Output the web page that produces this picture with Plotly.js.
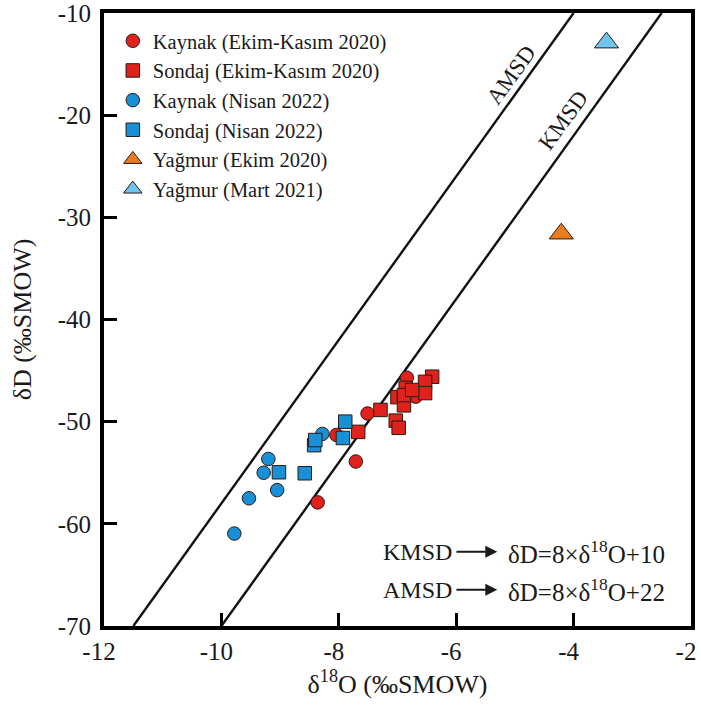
<!DOCTYPE html>
<html>
<head>
<meta charset="utf-8">
<script src="https://cdn.plot.ly/plotly-3.0.1.min.js"></script>
<style>html,body{margin:0;padding:0;background:#fff;}#chart{width:701px;height:715px;}</style>
</head>
<body>
<div id="chart"></div>
<script>
// Kaynak (Ekim-Kasım 2020) - red circles
var kaynak2020_O = [-8.36, -7.71, -8.04, -7.51, -6.84, -6.69];
var kaynak2020_D = [-57.9, -53.9, -51.3, -49.2, -45.7, -47.55];
// Sondaj (Ekim-Kasım 2020) - red squares
var sondaj2020_O = [-7.67, -7.29, -7.03, -6.98, -6.41, -6.53, -6.86, -6.53, -7.00, -6.89, -6.89, -6.75];
var sondaj2020_D = [-51.0, -48.85, -49.9, -50.6, -45.6, -46.1, -46.7, -47.2, -47.6, -48.4, -47.4, -46.9];
// Kaynak (Nisan 2022) - blue circles
var kaynak2022_O = [-9.78, -9.53, -9.05, -9.28, -9.20, -8.28];
var kaynak2022_D = [-60.95, -57.5, -56.7, -55.0, -53.65, -51.2];
// Sondaj (Nisan 2022) - blue squares
var sondaj2022_O = [-9.02, -8.58, -8.42, -8.40, -7.89, -7.93];
var sondaj2022_D = [-54.95, -55.05, -52.3, -51.8, -50.0, -51.6];
// Yağmur
var yagmurEkim_O = [-4.21];
var yagmurEkim_D = [-31.6];
var yagmurMart_O = [-3.44];
var yagmurMart_D = [-12.9];
// Meteoric water lines: dD = slope * d18O + intercept
var lineNames = ["KMSD", "AMSD"];
var lineSlopes = [8, 8];
var lineIntercepts = [10, 22];
var xRange = [-12, -2];
var yRange = [-70, -10];
var xTicks = [-12, -10, -8, -6, -4, -2];
var xTickText = ["-12", "-10", "-8", "-6", "-4", "-2"];
var yTicks = [-70, -60, -50, -40, -30, -20, -10];
var yTickText = ["-70", "-60", "-50", "-40", "-30", "-20", "-10"];

function lineEnds(s, b) {
  var x0 = (yRange[0] - b) / s, x1 = (yRange[1] - b) / s;
  return {x: [x0, x1], y: [yRange[0], yRange[1]]};
}

var font = "Liberation Serif";
var ink = "#1a1a1a";
var mline = {color: "#2a1a14", width: 1};
var traces = [];
lineNames.forEach(function (n, i) {
  var e = lineEnds(lineSlopes[i], lineIntercepts[i]);
  traces.push({x: e.x, y: e.y, mode: "lines", name: n, line: {color: "#111", width: 2.4},
    showlegend: false, hoverinfo: "skip"});
});
traces.push({x: kaynak2020_O, y: kaynak2020_D, mode: "markers", name: "Kaynak (Ekim-Kasım 2020)",
  marker: {symbol: "circle", size: 13.5, color: "#e0221c", line: mline}});
traces.push({x: sondaj2020_O, y: sondaj2020_D, mode: "markers", name: "Sondaj (Ekim-Kasım 2020)",
  marker: {symbol: "square", size: 13.5, color: "#e0221c", line: mline}});
traces.push({x: kaynak2022_O, y: kaynak2022_D, mode: "markers", name: "Kaynak (Nisan 2022)",
  marker: {symbol: "circle", size: 13.5, color: "#1790d8", line: mline}});
traces.push({x: sondaj2022_O, y: sondaj2022_D, mode: "markers", name: "Sondaj (Nisan 2022)",
  marker: {symbol: "square", size: 13.5, color: "#1790d8", line: mline}});
traces.push({x: yagmurEkim_O, y: yagmurEkim_D, mode: "markers", name: "Yağmur (Ekim 2020)",
  marker: {symbol: "triangle-up", size: 21, color: "#ea7b1e", line: mline}});
traces.push({x: yagmurMart_O, y: yagmurMart_D, mode: "markers", name: "Yağmur (Mart 2021)",
  marker: {symbol: "triangle-up", size: 21, color: "#6fc5ef", line: mline}});

var annFont = {family: font, size: 24, color: ink};
var eqFont = {family: font, size: 25, color: ink};
var rotFont = {family: font, size: 23, color: ink};
var arrowStyle = {showarrow: true, axref: "x", ayref: "y", arrowhead: 2, arrowsize: 1.2,
  arrowwidth: 2, arrowcolor: ink, startstandoff: 3, font: annFont};
var annotations = [
  {x: -5.07, y: -16.1, text: "AMSD", showarrow: false, textangle: -54, font: rotFont},
  {x: -4.18, y: -20.5, text: "KMSD", showarrow: false, textangle: -54, font: rotFont},
  Object.assign({x: -5.30, y: -62.74, ax: -6.66, ay: -62.74, text: "KMSD"}, arrowStyle),
  Object.assign({x: -5.30, y: -66.46, ax: -6.66, ay: -66.46, text: "AMSD"}, arrowStyle),
  {x: -5.15, y: -62.74, text: "δD=8×δ<sup>18</sup>O+10", showarrow: false, xanchor: "left", font: eqFont},
  {x: -5.15, y: -66.46, text: "δD=8×δ<sup>18</sup>O+22", showarrow: false, xanchor: "left", font: eqFont}
];

var axisCommon = {showgrid: false, zeroline: false, showline: true, linecolor: "#000", linewidth: 4,
  mirror: true, ticks: "inside", ticklen: 13, tickwidth: 3, tickcolor: "#000",
  ticklabeloverflow: "allow", tickfont: {family: font, size: 25, color: ink}};

var layout = {
  width: 701, height: 715,
  margin: {l: 104, r: 10, t: 13, b: 89},
  paper_bgcolor: "#fff", plot_bgcolor: "#fff",
  font: {family: font, size: 22, color: ink},
  showlegend: true,
  legend: {x: 0.015, y: 0.987, xanchor: "left", yanchor: "top", bgcolor: "rgba(0,0,0,0)",
    font: {family: font, size: 20.5, color: ink}, tracegroupgap: 0},
  xaxis: Object.assign({}, axisCommon, {range: xRange, tickvals: xTicks, ticktext: xTickText,
    ticklabelshift: -5,
    title: {text: "δ<sup>18</sup>O (‰SMOW)", font: {family: font, size: 26, color: ink}, standoff: 12}}),
  yaxis: Object.assign({}, axisCommon, {range: yRange, tickvals: yTicks, ticktext: yTickText,
    ticklabelstandoff: 4,
    title: {text: "δD (‰SMOW)", font: {family: font, size: 26, color: ink}, standoff: 20}}),
  annotations: annotations
};

Plotly.newPlot("chart", traces, layout, {displayModeBar: false, staticPlot: true});
</script>
</body>
</html>
